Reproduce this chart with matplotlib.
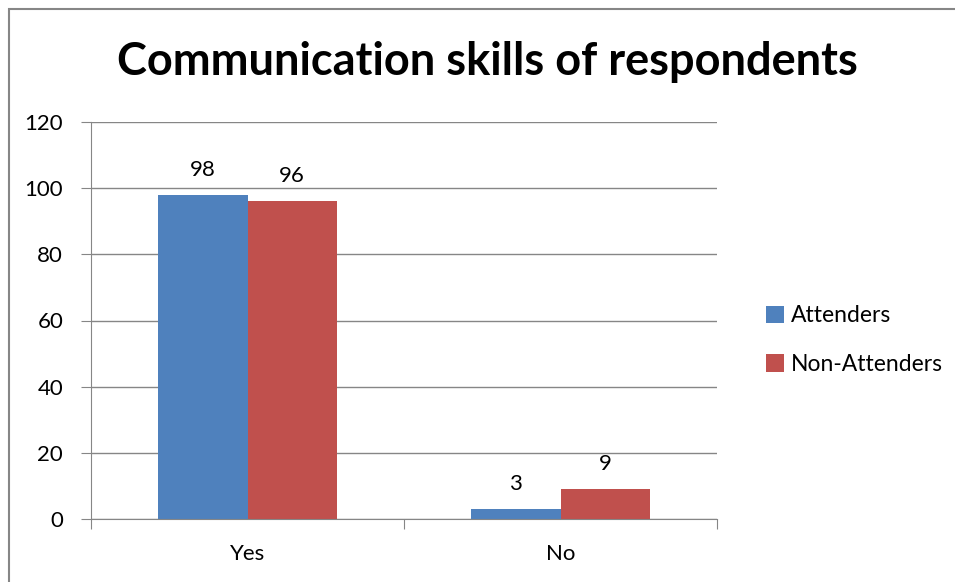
import matplotlib.pyplot as plt
from matplotlib.patches import Rectangle
import numpy as np

categories = ["Yes", "No"]
attenders = [98, 3]
non_attenders = [96, 9]
series_names = ["Attenders", "Non-Attenders"]
colors = ["#4f81bd", "#c0504d"]
y_ticks = [0, 20, 40, 60, 80, 100, 120]

plt.rcParams['font.family'] = ['Lato', 'DejaVu Sans']

fig = plt.figure(figsize=(9.55, 5.82), dpi=100)

# chart area border (left and top only visible, image is cropped)
fig.patches.append(Rectangle((9 / 955, -0.1), 1.2, (582 - 9) / 582 + 0.1,
                             transform=fig.transFigure, fill=False,
                             edgecolor="#868686", linewidth=1.5))

ax = fig.add_axes([91 / 955, 1 - 519 / 582, (717 - 91) / 955, (519 - 122) / 582])

x = np.arange(len(categories))
width = 1 / 3.5
b1 = ax.bar(x - width / 2, attenders, width, color=colors[0], label=series_names[0])
b2 = ax.bar(x + width / 2, non_attenders, width, color=colors[1], label=series_names[1])

for bars in (b1, b2):
    for bar in bars:
        ax.annotate(str(int(bar.get_height())),
                    (bar.get_x() + bar.get_width() / 2, bar.get_height()),
                    xytext=(0, 11), textcoords="offset points",
                    ha="center", va="bottom", fontsize=16, color="#000000")

ax.set_xlim(-0.5, 1.5)
ax.set_ylim(0, 120)
ax.set_yticks(y_ticks)
ax.set_yticklabels([str(t) for t in y_ticks], fontsize=16)
ax.yaxis.grid(True, color="#868686", linewidth=1)
ax.set_axisbelow(True)

ax.set_xticks([-0.5, 0.5, 1.5])
ax.set_xticklabels([])
ax.set_xticks(x, minor=True)
ax.set_xticklabels(categories, minor=True, fontsize=16)
ax.tick_params(axis="x", which="minor", length=0, pad=18)
ax.tick_params(axis="x", which="major", length=7, color="#868686")
ax.tick_params(axis="y", length=7, color="#868686", pad=13)

for side in ("top", "right"):
    ax.spines[side].set_visible(False)
for side in ("left", "bottom"):
    ax.spines[side].set_color("#868686")

fig.text(487 / 955, 1 - 62 / 582, "Communication skills of respondents",
         ha="center", va="center", fontsize=32.5, fontweight="bold")

fig.legend(loc="center left", bbox_to_anchor=(745 / 955, 1 - 340 / 582),
           frameon=False, fontsize=16.5, handlelength=0.8, handleheight=0.8,
           handletextpad=0.3, labelspacing=1.2)

fig.savefig("out.png", dpi=100)
